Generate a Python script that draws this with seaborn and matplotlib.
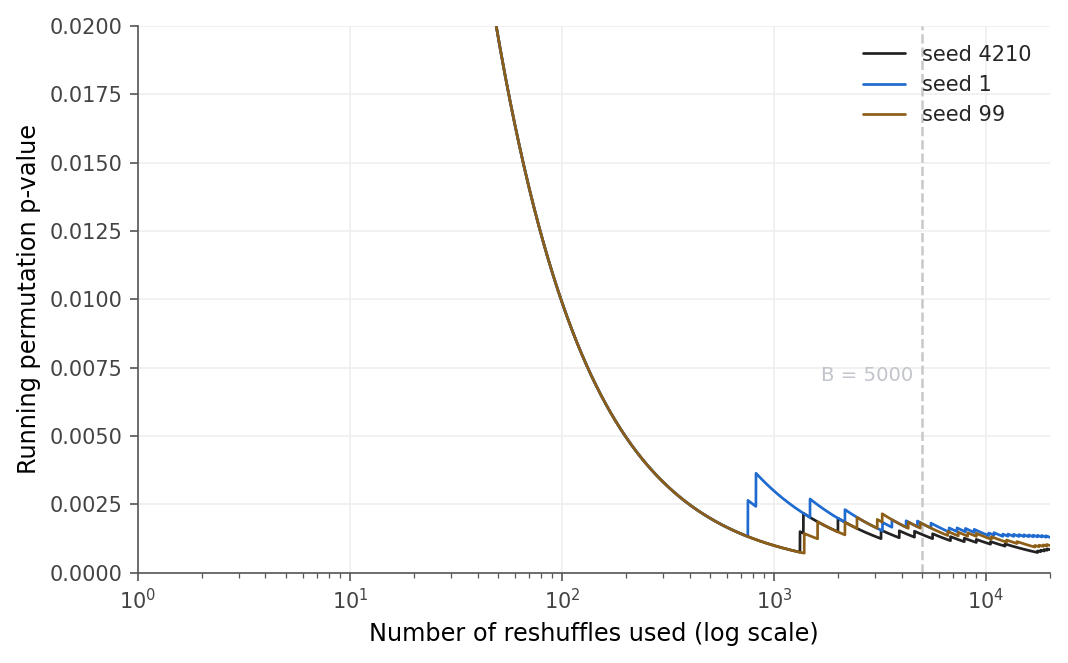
import numpy as np
import pandas as pd
import seaborn as sns
import matplotlib
matplotlib.use("Agg")
from matplotlib import pyplot as plt
from matplotlib.ticker import MultipleLocator, FormatStrFormatter

# reshuffles where the permuted statistic beat the observed one, per seed
n_total = 20000
budget = 5000
seeds = ['seed 4210', 'seed 1', 'seed 99']
hits_4210 = [1327, 1377, 2004, 3200, 3900, 4600, 5600, 6800, 7900, 9000,
             10500, 12300, 17500, 18100, 18800, 19400]
hits_1 = [754, 823, 1480, 2162, 3250, 3600, 4200, 4750, 5500, 6700, 7300,
          8000, 8800, 10300, 10900, 12000, 12700, 13500, 14300, 15100, 15900,
          16700, 17500, 18300, 19200]
hits_99 = [1390, 1607, 2162, 2464, 3070, 3240, 4300, 4900, 6600, 7400, 8200,
           9000, 10600, 12500, 14000, 17000, 17800, 18600, 19300]
colors = ['#222222', '#1f6bd0', '#8c5e17']

n = np.arange(1, n_total + 1)
frames = []
for name, hits in zip(seeds, [hits_4210, hits_1, hits_99]):
    flag = np.zeros(n_total)
    flag[np.array(hits) - 1] = 1
    pval = (np.cumsum(flag) + 1) / (n + 1)
    frames.append(pd.DataFrame({'n': n, 'p': pval, 'seed': name}))
df = pd.concat(frames, ignore_index=True)

sns.set_style('whitegrid', {'grid.color': '#efefef', 'axes.edgecolor': '#555555',
                            'xtick.bottom': True, 'ytick.left': True})
plt.rcParams['font.family'] = ['DejaVu Sans']

fig, ax = plt.subplots(figsize=(7.12, 4.42), dpi=150)
fig.subplots_adjust(left=0.129, right=0.983, top=0.961, bottom=0.136)

sns.lineplot(data=df, x='n', y='p', hue='seed', hue_order=seeds,
             palette=colors, estimator=None, linewidth=1.3, ax=ax)

ax.axvline(budget, color='#c8c8c8', linestyle='--', linewidth=1.2, zorder=1)
ax.text(budget * 0.905, 0.0072, 'B = 5000', color='#c2c5cb', fontsize=9.5,
        ha='right', va='center')

ax.set_xscale('log')
ax.set_xlim(1, n_total)
ax.set_ylim(0, 0.02)
ax.yaxis.set_major_locator(MultipleLocator(0.0025))
ax.yaxis.set_major_formatter(FormatStrFormatter('%.4f'))
ax.grid(True, which='major', color='#efefef', linewidth=0.8)
ax.grid(False, which='minor')
sns.despine(ax=ax)

ax.tick_params(axis='both', which='major', labelsize=10, colors='#555555',
               labelcolor='#444444', length=4, width=0.8)
ax.tick_params(axis='x', which='minor', colors='#555555', length=2.5, width=0.6)
ax.set_xlabel('Number of reshuffles used (log scale)', fontsize=11.5, color='black')
ax.set_ylabel('Running permutation p-value', fontsize=11.5, color='black')

handles, labels = ax.get_legend_handles_labels()
ax.legend(handles, labels, frameon=False, loc='upper right', fontsize=10,
          handlelength=2.0)

plt.savefig('out.png', dpi=150)
